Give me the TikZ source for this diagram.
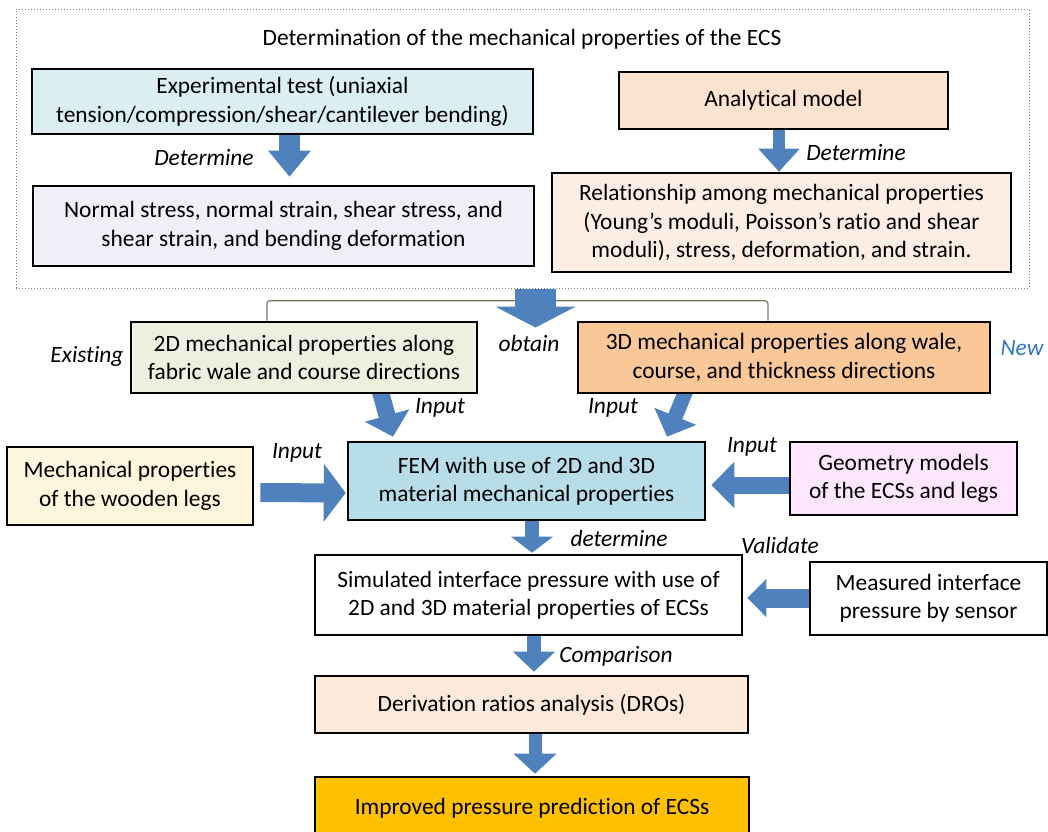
\documentclass[tikz,border=0pt]{standalone}
\usepackage{fontspec}
\setmainfont[RawFeature={-liga;-clig;-dlig;-calt}]{Carlito}
\usetikzlibrary{arrows.meta,calc,backgrounds}
\definecolor{arrowblue}{HTML}{4F81BD}
\definecolor{newblue}{HTML}{2E75C6}
\definecolor{brkcol}{HTML}{77775A}
\definecolor{expfill}{HTML}{DAEEF3}
\definecolor{resfill}{HTML}{F0EEF6}
\definecolor{anafill}{HTML}{FCE3CF}
\definecolor{relfill}{HTML}{FDEDE2}
\definecolor{twodfill}{HTML}{EBF1DE}
\definecolor{threedfill}{HTML}{FAC798}
\definecolor{femfill}{HTML}{B7DEE8}
\definecolor{legsfill}{HTML}{FDF6DD}
\definecolor{geofill}{HTML}{FFE6FF}
\definecolor{drofill}{HTML}{FDE9D9}
\definecolor{impfill}{HTML}{FFC000}
\newcommand{\flowfont}{\fontsize{11.7pt}{14.2pt}\selectfont}
\begin{document}
\begin{tikzpicture}[x=0.5pt,y=-0.5pt,
    box/.style={draw=black,line width=1.3pt,inner sep=0pt,align=center,font=\flowfont},
    wh/.style 2 args={minimum width=#1*0.5pt,minimum height=#2*0.5pt},
    frame/.style={draw=gray,densely dotted,line width=0.5pt,inner sep=0pt},
    ttl/.style={inner sep=0pt,font=\flowfont},
    lbl/.style={inner sep=0pt,font=\flowfont\itshape},
    brk/.style={draw=brkcol,line width=0.6pt,rounded corners=1.5pt},
    blk/.style n args={3}{draw=arrowblue,line width=#1,-{Triangle[width=#2,length=#3]}}]
  \useasboundingbox (0,0) rectangle (1048,831);

  \node[frame,wh={1013}{279}] (frame) at (522.5,148.5) {};
  \node[ttl] (title) at (522,39) {Determination of the mechanical properties of the ECS};
  \node[box,fill=expfill,wh={501}{65}] (exp) at (282.5,101.5) {Experimental test (uniaxial\\tension/compression/shear/cantilever bending)};
  \node[box,fill=resfill,wh={501}{80}] (res) at (283.5,226) {Normal stress, normal strain, shear stress, and\\shear strain, and bending deformation};
  \node[box,fill=anafill,wh={329}{57}] (ana) at (783.5,100.5) {Analytical model};
  \node[box,fill=relfill,wh={459}{99}] (rel) at (781.5,222.5) {Relationship among mechanical properties\\(Young’s moduli, Poisson’s ratio and shear\\moduli), stress, deformation, and strain.};

  \node[box,fill=twodfill,wh={346}{71}] (twod) at (304,357.5) {2D mechanical properties along\\fabric wale and course directions};
  \node[box,fill=threedfill,wh={412}{71}] (threed) at (784,357.5) {3D mechanical properties along wale,\\course, and thickness directions};
  \node[box,fill=femfill,wh={357}{78}] (fem) at (526.5,481) {FEM with use of 2D and 3D\\material mechanical properties};
  \node[box,fill=legsfill,wh={246}{78}] (legs) at (130,486) {Mechanical properties\\of the wooden legs};
  \node[box,fill=geofill,wh={227}{73}] (geo) at (903.5,478.5) {Geometry models\\of the ECSs and legs};
  \node[box,fill=white,wh={427}{80}] (sim) at (528.5,595) {Simulated interface pressure with use of\\2D and 3D material properties of ECSs};
  \node[box,fill=white,wh={237}{73}] (meas) at (928.5,598.5) {Measured interface\\pressure by sensor};
  \node[box,fill=drofill,wh={433}{57}] (dro) at (531.5,704.5) {Derivation ratios analysis (DROs)};
  \node[box,fill=impfill,wh={434}{62}] (imp) at (532,808) {Improved pressure prediction of ECSs};

  \node[lbl] (det1) at (204,158) {Determine};
  \node[lbl] (det2) at (856,153) {Determine};
  \node[lbl] (obtain) at (529,343) {obtain};
  \node[lbl] (existing) at (87,356) {Existing};
  \node[lbl,text=newblue] (new) at (1022,348) {New};
  \node[lbl] (in1) at (440,408) {Input};
  \node[lbl] (in2) at (613,408) {Input};
  \node[lbl] (in3) at (297,453) {Input};
  \node[lbl] (in4) at (752,447) {Input};
  \node[lbl] (det3) at (619,538) {determine};
  \node[lbl] (valid) at (780,545) {Validate};
  \node[lbl] (comp) at (616,656) {Comparison};

  \begin{pgfonlayer}{background}
    \draw[brk] ($(twod.north)+(-37,0)$) |- ($(threed.north)+(-16,-20)$) -- ($(threed.north)+(-16,0)$);
    \draw[blk={10.5pt}{20.5pt}{13pt}] (exp.south) ++(7,0) -- ($(res.north)+(6,-8)$);
    \draw[blk={6pt}{20pt}{11.5pt}] (ana.south) ++(-4.5,0) -- ($(rel.north)+(-2.5,0)$);
    \draw[blk={20.5pt}{40pt}{10.5pt}] (frame.south) ++(13,0) -- ($(frame.south)+(13,39)$);
    \draw[blk={8.5pt}{22.5pt}{11pt}] ($(twod.south)+(76,-4)$) -- ($(fem.north)+(-133.5,-4)$);
    \draw[blk={7.5pt}{22pt}{11pt}] ($(threed.south)+(-98,-4)$) -- ($(fem.north)+(140.5,-4)$);
    \draw[blk={9.5pt}{28.5pt}{11pt}] ($(legs.east)+(6,6.5)$) -- ($(fem.west)+(-1,12)$);
    \draw[blk={8.5pt}{22.5pt}{11.5pt}] ($(geo.west)+(0,6.5)$) -- ($(fem.east)+(5,4)$);
    \draw[blk={7pt}{20.5pt}{8pt}] (fem.south) ++(5.5,0) -- ($(sim.north)+(3.5,-1)$);
    \draw[blk={9.5pt}{18.5pt}{9.5pt}] ($(meas.west)+(0,-0.5)$) -- ($(sim.east)+(4,3)$);
    \draw[blk={7pt}{20.5pt}{10pt}] (sim.south) ++(5.5,0) -- ($(dro.north)+(2.5,-3)$);
    \draw[blk={6.5pt}{21pt}{10pt}] (dro.south) ++(3.5,0) -- ($(imp.north)+(3,-2)$);
  \end{pgfonlayer}
\end{tikzpicture}
\end{document}
